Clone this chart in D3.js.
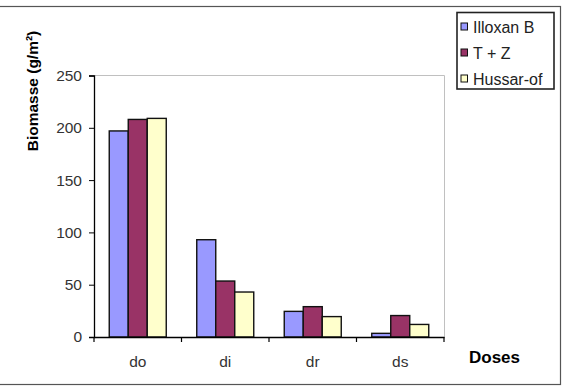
<!DOCTYPE html>
<html>
<head>
<meta charset="utf-8">
<script src="https://cdn.jsdelivr.net/npm/d3@7"></script>
<style>
  body { margin: 0; background: #fff; }
  text { font-family: Arial, "Liberation Sans", sans-serif; }
</style>
</head>
<body>
<div id="chart"></div>
<script>
const doses = ["do", "di", "dr", "ds"];
const seriesNames = ["Illoxan B", "T + Z", "Hussar-of"];
const illoxan = [197, 93, 24.5, 3.5];
const tz = [208, 53.5, 29, 20.5];
const hussar = [209, 43, 19.5, 12];
const yTicks = [0, 50, 100, 150, 200, 250];
const colors = ["#9999ff", "#993366", "#ffffcc"];

const seriesValues = [illoxan, tz, hussar];
const data = doses.map((d, i) => ({dose: d, values: seriesValues.map(s => s[i])}));

const width = 562, height = 386;
const margins = {top: 75.5, right: 118, bottom: 49, left: 94};

const svg = d3.select("#chart").append("svg")
    .attr("width", width).attr("height", height);

// outer frame (left edge is cut off in the original)
svg.append("rect")
    .attr("x", -2).attr("y", 6.5)
    .attr("width", 562.5).attr("height", 378)
    .attr("fill", "#fff").attr("stroke", "#555").attr("stroke-width", 1.2);

const xScale = d3.scaleBand()
    .domain(doses)
    .range([margins.left, width - margins.right]);

const yScale = d3.scaleLinear()
    .domain([0, 250])
    .range([height - margins.bottom, margins.top]);

// plot frame top and right (gray)
svg.append("path")
    .attr("d", `M${margins.left},${margins.top}H${width - margins.right + 0.5}V${height - margins.bottom}`)
    .attr("fill", "none").attr("stroke", "#c0c0c0").attr("stroke-width", 1);

// bars
const groups = svg.append("g").selectAll("g")
    .data(data).enter().append("g")
    .attr("transform", d => `translate(${xScale(d.dose)},0)`);

const bw = 19;
const groupOffset = (xScale.bandwidth() - bw * 3) / 2;
groups.selectAll("rect")
    .data(d => d.values.map((v, j) => ({v, j})))
    .enter().append("rect")
    .attr("x", d => groupOffset + d.j * bw)
    .attr("y", d => yScale(d.v))
    .attr("width", bw)
    .attr("height", d => yScale(0) - yScale(d.v))
    .attr("fill", d => colors[d.j])
    .attr("stroke", "#111").attr("stroke-width", 1.4);

// y axis
const yAxis = d3.axisLeft(yScale).tickValues(yTicks).tickSize(5).tickPadding(7);
const yGroup = svg.append("g")
    .attr("transform", `translate(${margins.left},0)`)
    .call(yAxis);
yGroup.select(".domain").attr("stroke", "#000").attr("stroke-width", 1.3);
yGroup.selectAll(".tick line").attr("stroke", "#000");
yGroup.selectAll("text").style("font-size", "15.5px").attr("fill", "#333");

// x axis
const xAxis = d3.axisBottom(xScale).tickSize(0).tickPadding(19);
const xGroup = svg.append("g")
    .attr("transform", `translate(0,${height - margins.bottom})`)
    .call(xAxis);
xGroup.select(".domain").attr("stroke", "#000").attr("stroke-width", 1.6);
xGroup.selectAll("text").style("font-size", "15.5px").attr("fill", "#333");
// category separator ticks
xGroup.selectAll(".sep")
    .data(doses.concat(["end"]))
    .enter().append("line")
    .attr("x1", (d, i) => i < doses.length ? xScale(d) : width - margins.right)
    .attr("x2", (d, i) => i < doses.length ? xScale(d) : width - margins.right)
    .attr("y1", 0).attr("y2", 5)
    .attr("stroke", "#000").attr("stroke-width", 1.2);

// axis titles
svg.append("text")
    .attr("transform", "rotate(-90)")
    .attr("x", -91).attr("y", 38)
    .attr("text-anchor", "middle")
    .style("font-size", "15.5px").style("font-weight", "bold")
    .text("Biomasse (g/m²)");

svg.append("text")
    .attr("x", 469).attr("y", 362.5)
    .style("font-size", "17px").style("font-weight", "bold")
    .text("Doses");

// legend
const legend = svg.append("g").attr("transform", "translate(457,12.5)");
legend.append("rect")
    .attr("width", 97).attr("height", 76.5)
    .attr("fill", "#fff").attr("stroke", "#222").attr("stroke-width", 1.6);
const items = legend.selectAll(".item")
    .data(seriesNames).enter().append("g")
    .attr("transform", (d, i) => `translate(4,${14 + i * 26})`);
items.append("rect")
    .attr("x", 0).attr("y", -3.5)
    .attr("width", 6.5).attr("height", 7)
    .attr("fill", (d, i) => colors[i])
    .attr("stroke", "#111").attr("stroke-width", 1);
items.append("text")
    .attr("x", 12).attr("y", 6)
    .style("font-size", "16px").attr("fill", "#222")
    .text(d => d);
</script>
</body>
</html>
